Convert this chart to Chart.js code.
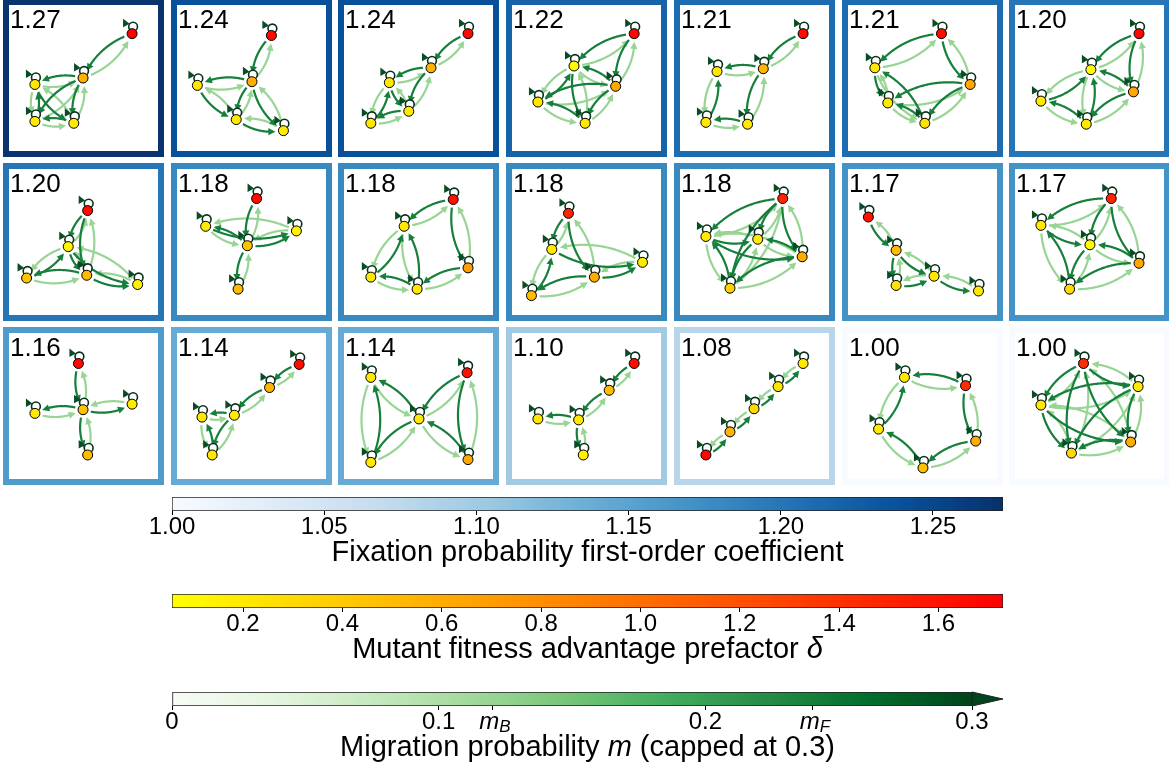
<!DOCTYPE html>
<html>
<head>
<meta charset="utf-8">
<script src="https://cdn.jsdelivr.net/npm/chart.js@4.4.1/dist/chart.umd.min.js"></script>
<style>
  html, body { margin: 0; padding: 0; background: #fff; }
  #wrap { position: relative; width: 1169px; height: 774px; overflow: hidden; background: #fff; }
  #wrap canvas { position: absolute; }
</style>
</head>
<body>
<div id="wrap"></div>
<script>
// ---- data ----
const panelValues = [1.27, 1.24, 1.24, 1.22, 1.21, 1.21, 1.20,
                     1.20, 1.18, 1.18, 1.18, 1.18, 1.17, 1.17,
                     1.16, 1.14, 1.14, 1.10, 1.08, 1.00, 1.00];

// node positions in panel units (x right, y down), 5 nodes per panel
const nodeX = [
  [133, 80, 28, 28, 70], [102, 81, 22, 64, 115], [134, 94, 49, 29, 70], [132, 67, 112, 28, 79],
  [133, 90, 40, 28, 73], [101, 29, 132, 43, 83], [134, 82, 28, 128, 77],
  [85, 64, 19, 84, 139], [86, 31, 129, 76, 66], [118, 65, 29, 134, 79], [61, 43, 89, 141, 21],
  [111, 28, 84, 132, 54], [22, 52, 93, 52, 141], [104, 28, 81, 134, 59],
  [75, 28, 80, 133, 85], [132, 100, 62, 27, 38], [29, 29, 133, 81, 134], [132, 105, 72, 28, 77],
  [133, 106, 80, 54, 28], [61, 127, 33, 138, 81], [74, 133, 28, 125, 61]
];
const nodeY = [
  [31, 79, 86, 126, 128], [33, 83, 87, 124, 136], [31, 68, 84, 128, 115], [31, 66, 88, 105, 128],
  [31, 69, 72, 127, 129], [31, 68, 86, 106, 128], [31, 70, 104, 94, 129],
  [45, 84, 118, 115, 125], [32, 62, 67, 83, 130], [33, 62, 117, 107, 130], [48, 87, 117, 101, 137],
  [32, 73, 76, 95, 129], [52, 88, 116, 126, 132], [32, 61, 82, 102, 130],
  [33, 87, 83, 77, 132], [34, 59, 89, 91, 132], [48, 140, 43, 93, 137], [33, 62, 94, 93, 132],
  [33, 58, 82, 107, 132], [48, 57, 104, 117, 146], [33, 58, 78, 118, 130]
];
// mutant fitness advantage prefactor per node
const nodeDelta = [
  [1.72, 0.55, 0.2, 0.2, 0.2], [1.68, 0.58, 0.22, 0.2, 0.18], [1.68, 0.55, 0.2, 0.2, 0.2], [1.68, 0.07, 0.62, 0.2, 0.2],
  [1.66, 0.55, 0.2, 0.2, 0.2], [1.66, 0.2, 0.62, 0.2, 0.25], [1.68, 0.07, 0.2, 0.62, 0.2],
  [1.66, 0.12, 0.45, 0.5, 0.15], [1.66, 0.2, 0.15, 0.45, 0.5], [1.62, 0.2, 0.2, 0.68, 0.2], [1.5, 0.2, 0.6, 0.2, 0.5],
  [1.5, 0.2, 0.18, 0.6, 0.35], [1.62, 0.5, 0.2, 0.25, 0.2], [1.5, 0.2, 0.07, 0.62, 0.3],
  [1.68, 0.2, 0.45, 0.18, 0.5], [1.66, 0.55, 0.2, 0.2, 0.2], [0.2, 0.2, 1.62, 0.2, 0.62], [1.66, 0.5, 0.2, 0.2, 0.15],
  [0.2, 0.25, 0.3, 0.55, 1.68], [0.2, 1.45, 0.2, 0.6, 0.45], [1.45, 0.2, 0.2, 0.6, 0.3]
];
// migration probabilities: forward and backward
const mF = 0.24, mB = 0.12;
// edges [a, b]: a -> b migrates with mF, b -> a with mB
const panelEdges = [
  [[0,1],[1,2],[1,3],[1,4],[3,2],[2,4],[4,3]],
  [[0,1],[1,2],[1,3],[1,4],[2,3],[3,4]],
  [[0,1],[1,2],[1,4],[3,2],[2,4],[4,3]],
  [[0,1],[0,2],[2,1],[3,1],[1,4],[2,3],[4,3],[2,4]],
  [[0,1],[1,2],[1,4],[3,2],[4,3]],
  [[0,1],[0,2],[1,3],[4,1],[2,3],[2,4],[4,3]],
  [[0,1],[0,3],[2,1],[3,1],[4,1],[4,2],[3,4]],
  [[0,1],[0,3],[2,1],[3,2],[3,4],[1,3],[1,4]],
  [[0,3],[3,1],[3,2],[3,4],[1,2]],
  [[0,1],[0,3],[2,1],[4,1],[3,4],[4,2]],
  [[0,1],[0,2],[4,1],[1,3],[2,4],[2,3]],
  [[0,1],[0,2],[0,3],[0,4],[1,2],[1,3],[4,1],[2,4],[3,2],[3,4]],
  [[0,1],[1,3],[1,2],[3,2],[2,4]],
  [[0,1],[0,2],[0,3],[1,2],[3,2],[4,1],[2,4],[3,4]],
  [[0,2],[2,1],[2,3],[2,4]],
  [[0,1],[1,2],[2,3],[2,4],[4,3]],
  [[1,0],[3,0],[3,1],[2,3],[4,3],[2,4]],
  [[0,1],[1,2],[2,3],[2,4]],
  [[4,3],[3,2],[2,1],[1,0]],
  [[1,0],[1,3],[3,4],[4,2],[2,0]],
  [[0,1],[0,2],[0,3],[0,4],[1,2],[1,3],[1,4],[2,3],[2,4],[3,4]]
];

// colorbars
const fixRange = [1.0, 1.273];
const fixTicks = [1.00, 1.05, 1.10, 1.15, 1.20, 1.25];
const fixTickLabels = ['1.00', '1.05', '1.10', '1.15', '1.20', '1.25'];
const deltaRange = [0.057, 1.73];
const deltaTicks = [0.2, 0.4, 0.6, 0.8, 1.0, 1.2, 1.4, 1.6];
const deltaTickLabels = ['0.2', '0.4', '0.6', '0.8', '1.0', '1.2', '1.4', '1.6'];
const migRange = [0, 0.3];
const migTicks = [0, 0.1, mB, 0.2, mF, 0.3];
const migTickLabels = ['0', '0.1', '', '0.2', '', '0.3'];

// ---- colour maps ----
const FONT = '"Liberation Sans", Arial, sans-serif';
const BLUES = ['#f7fbff','#deebf7','#c6dbef','#9ecae1','#6baed6','#4292c6','#2171b5','#08519c','#08306b'];
const GREENS = ['#f7fcf5','#e5f5e0','#c7e9c0','#a1d99b','#74c476','#41ab5d','#238b45','#006d2c','#00441b'];

function hexRgb(h) {
  return [parseInt(h.slice(1, 3), 16), parseInt(h.slice(3, 5), 16), parseInt(h.slice(5, 7), 16)];
}
function fromStops(stops, t) {
  t = Math.max(0, Math.min(1, t));
  const n = stops.length - 1, s = t * n, k = Math.min(n - 1, Math.floor(s)), f = s - k;
  const a = hexRgb(stops[k]), b = hexRgb(stops[k + 1]);
  return 'rgb(' + [0, 1, 2].map(j => Math.round(a[j] + (b[j] - a[j]) * f)).join(',') + ')';
}
const blues = t => fromStops(BLUES, t);
const greens = t => fromStops(GREENS, t);
const autumnR = t => { t = Math.max(0, Math.min(1, t)); return 'rgb(255,' + Math.round(255 * (1 - t)) + ',0)'; };

const fixColor = v => blues((v - fixRange[0]) / (fixRange[1] - fixRange[0]));
const deltaColor = v => autumnR((v - deltaRange[0]) / (deltaRange[1] - deltaRange[0]));
const migColor = v => greens((v - migRange[0]) / (migRange[1] - migRange[0]));

// ---- helpers ----
const wrap = document.getElementById('wrap');
function mkCanvas(left, top, w, h) {
  const c = document.createElement('canvas');
  c.width = w; c.height = h;
  c.style.left = left + 'px'; c.style.top = top + 'px';
  c.style.width = w + 'px'; c.style.height = h + 'px';
  wrap.appendChild(c);
  return c;
}

function drawEdge(c, p, q, color) {
  const dx = q.x - p.x, dy = q.y - p.y;
  const cx = (p.x + q.x) / 2 - 0.22 * dy, cy = (p.y + q.y) / 2 + 0.22 * dx;
  const B = t => { const u = 1 - t; return { x: u*u*p.x + 2*u*t*cx + t*t*q.x, y: u*u*p.y + 2*u*t*cy + t*t*q.y }; };
  const d = (a, b) => Math.hypot(a.x - b.x, a.y - b.y);
  let t0 = 0; while (t0 < 0.45 && d(B(t0), p) < 8) t0 += 0.004;
  let t1 = 1; while (t1 > 0.55 && d(B(t1), q) < 8) t1 -= 0.004;
  const tip = B(t1);
  const head = 7, hw = 3.6;
  let tb = t1; while (tb > t0 && d(B(tb), tip) < head) tb -= 0.003;
  const base = B(tb);
  const L = d(base, tip) || 1;
  const ux = (tip.x - base.x) / L, uy = (tip.y - base.y) / L;
  c.strokeStyle = color; c.lineWidth = 2.2; c.lineCap = 'butt';
  c.beginPath();
  const s = B(t0); c.moveTo(s.x, s.y);
  for (let t = t0; t < tb; t += 0.01) { const r = B(t); c.lineTo(r.x, r.y); }
  c.lineTo(base.x + ux, base.y + uy);
  c.stroke();
  c.fillStyle = color;
  c.beginPath();
  c.moveTo(tip.x, tip.y);
  c.lineTo(base.x - uy * hw, base.y + ux * hw);
  c.lineTo(base.x + uy * hw, base.y - ux * hw);
  c.closePath(); c.fill();
}

function drawLoop(c, p) {
  c.beginPath(); c.arc(p.x + 1, p.y - 7, 4.4, 0, 2 * Math.PI);
  c.fillStyle = '#fff'; c.fill();
  c.lineWidth = 1.6; c.strokeStyle = '#06301a'; c.stroke();
  c.beginPath();
  c.moveTo(p.x - 9, p.y - 15); c.lineTo(p.x - 9, p.y - 6.5); c.lineTo(p.x - 2.5, p.y - 10);
  c.closePath(); c.fillStyle = '#0a4a25'; c.fill();
}

// ---- network panels ----
const COL_LEFT = [3, 171, 338, 506, 674, 842, 1009];
const ROW_TOP = [-1, 163, 327];
const PW = 161, PH = 158;

function panelPlugin(i) {
  return {
    id: 'net' + i,
    beforeDraw(ch) {
      const c = ch.ctx; c.save(); c.fillStyle = '#fff'; c.fillRect(0, 0, ch.width, ch.height); c.restore();
    },
    beforeDatasetsDraw(ch) {
      const c = ch.ctx, xs = ch.scales.x, ys = ch.scales.y;
      const pts = nodeX[i].map((x, k) => ({ x: xs.getPixelForValue(x), y: ys.getPixelForValue(nodeY[i][k]) }));
      c.save();
      panelEdges[i].forEach(([a, b]) => drawEdge(c, pts[b], pts[a], migColor(mB)));
      panelEdges[i].forEach(([a, b]) => drawEdge(c, pts[a], pts[b], migColor(mF)));
      pts.forEach(p => drawLoop(c, p));
      c.restore();
    },
    afterDraw(ch) {
      const c = ch.ctx; c.save();
      c.lineWidth = 6; c.strokeStyle = fixColor(panelValues[i]);
      c.strokeRect(3, 3, ch.width - 6, ch.height - 6);
      c.fillStyle = '#000'; c.font = '26px ' + FONT; c.textBaseline = 'alphabetic'; c.textAlign = 'left';
      c.fillText(panelValues[i].toFixed(2), 7, 29);
      c.restore();
    }
  };
}

panelValues.forEach((v, i) => {
  const cv = mkCanvas(COL_LEFT[i % 7], ROW_TOP[Math.floor(i / 7)], PW, PH);
  new Chart(cv, {
    type: 'scatter',
    data: {
      datasets: [{
        data: nodeX[i].map((x, k) => ({ x: x, y: nodeY[i][k] })),
        pointRadius: 5, pointHoverRadius: 5,
        pointBackgroundColor: nodeDelta[i].map(deltaColor),
        pointBorderColor: '#000', pointBorderWidth: 1
      }]
    },
    options: {
      responsive: false, animation: false, events: [],
      layout: { padding: 0 },
      plugins: { legend: { display: false }, tooltip: { enabled: false } },
      scales: {
        x: { type: 'linear', display: false, min: 0, max: PW },
        y: { type: 'linear', display: false, min: 0, max: PH, reverse: true }
      }
    },
    plugins: [panelPlugin(i)]
  });
});

// ---- colorbars ----
function richText(c, parts, cx, y) {
  let w = 0;
  parts.forEach(p => { c.font = p.font; w += c.measureText(p.text).width; });
  let x = cx - w / 2;
  c.textAlign = 'left'; c.textBaseline = 'middle'; c.fillStyle = '#000';
  parts.forEach(p => { c.font = p.font; c.fillText(p.text, x, y + (p.dy || 0)); x += c.measureText(p.text).width; });
}

const TICK_SIZE = 24, TITLE_SIZE = 29;

function colorbar(cfg) {
  const padTop = 6, barH = 14, axisH = 70;
  const cv = mkCanvas(0, cfg.top - padTop, 1169, padTop + barH + axisH);
  new Chart(cv, {
    type: 'bar',
    data: {
      labels: [''],
      datasets: [{
        data: [[cfg.range[0], cfg.range[1]]],
        backgroundColor: (ctx) => {
          const ch = ctx.chart;
          if (!ch.chartArea) return 'rgba(0,0,0,0)';
          const xs = ch.scales.x;
          const g = ch.ctx.createLinearGradient(xs.getPixelForValue(cfg.range[0]), 0, xs.getPixelForValue(cfg.range[1]), 0);
          for (let k = 0; k <= 40; k++) g.addColorStop(k / 40, cfg.cmap(k / 40));
          return g;
        },
        borderColor: '#222', borderWidth: 1, borderSkipped: false,
        barPercentage: 1, categoryPercentage: 1
      }]
    },
    options: {
      indexAxis: 'y', responsive: false, animation: false, events: [],
      layout: { padding: { left: 172, right: cfg.right, top: padTop, bottom: 0 } },
      plugins: { legend: { display: false }, tooltip: { enabled: false } },
      scales: {
        y: { display: false },
        x: {
          type: 'linear', position: 'bottom', min: cfg.range[0], max: cfg.range[1],
          afterBuildTicks: (s) => { s.ticks = cfg.ticks.map(v => ({ value: v })); },
          afterFit: (s) => { s.height = axisH; },
          border: { display: false },
          grid: { drawOnChartArea: false, drawTicks: true, tickLength: 4, color: '#000', lineWidth: 1 },
          ticks: {
            color: '#000', padding: 0, maxRotation: 0, autoSkip: false,
            font: { family: FONT, size: TICK_SIZE, lineHeight: 1 },
            callback: (v, k) => cfg.labels[k]
          }
        }
      }
    },
    plugins: [{
      id: 'cb',
      afterDatasetsDraw(ch) {
        if (!cfg.extend) return;
        const a = ch.chartArea, c = ch.ctx;
        c.save();
        c.beginPath();
        c.moveTo(a.right, a.top); c.lineTo(a.right + 31, (a.top + a.bottom) / 2); c.lineTo(a.right, a.bottom);
        c.closePath(); c.fillStyle = cfg.cmap(1); c.fill();
        c.lineWidth = 1; c.strokeStyle = '#222'; c.stroke();
        c.restore();
      },
      afterDraw(ch) {
        const a = ch.chartArea, c = ch.ctx, xs = ch.scales.x;
        c.save();
        (cfg.subLabels || []).forEach(sl => {
          const x = xs.getPixelForValue(sl.value);
          richText(c, [
            { text: 'm', font: 'italic ' + TICK_SIZE + 'px ' + FONT },
            { text: sl.sub, font: 'italic ' + Math.round(TICK_SIZE * 0.7) + 'px ' + FONT, dy: 5 }
          ], x + 3, a.bottom + 16);
        });
        richText(c, cfg.title, 587.5, a.bottom + 42);
        c.restore();
      }
    }]
  });
}

colorbar({
  top: 497, right: 166, range: fixRange, ticks: fixTicks, labels: fixTickLabels, cmap: blues,
  title: [{ text: 'Fixation probability first-order coefficient', font: TITLE_SIZE + 'px ' + FONT }]
});
colorbar({
  top: 594, right: 166, range: deltaRange, ticks: deltaTicks, labels: deltaTickLabels, cmap: autumnR,
  title: [{ text: 'Mutant fitness advantage prefactor ', font: TITLE_SIZE + 'px ' + FONT },
          { text: 'δ', font: 'italic ' + TITLE_SIZE + 'px ' + FONT }]
});
colorbar({
  top: 692, right: 197, range: migRange, ticks: migTicks, labels: migTickLabels, cmap: greens, extend: true,
  subLabels: [{ value: mB, sub: 'B' }, { value: mF, sub: 'F' }],
  title: [{ text: 'Migration probability ', font: TITLE_SIZE + 'px ' + FONT },
          { text: 'm', font: 'italic ' + TITLE_SIZE + 'px ' + FONT },
          { text: ' (capped at 0.3)', font: TITLE_SIZE + 'px ' + FONT }]
});
</script>
</body>
</html>
